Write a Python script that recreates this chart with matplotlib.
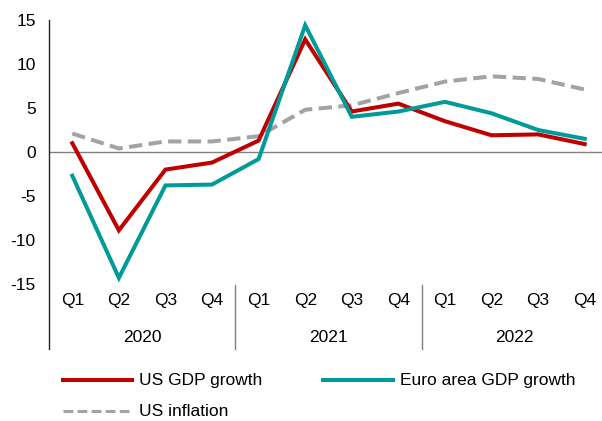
import matplotlib
matplotlib.use("Agg")
import matplotlib.pyplot as plt
from matplotlib.lines import Line2D

quarters = ["Q1", "Q2", "Q3", "Q4"] * 3
years = ["2020", "2021", "2022"]
us_gdp = [1.0, -8.9, -2.0, -1.2, 1.3, 12.8, 4.6, 5.5, 3.5, 1.9, 2.0, 0.9]
euro_gdp = [-2.7, -14.3, -3.8, -3.7, -0.8, 14.4, 4.0, 4.6, 5.7, 4.4, 2.5, 1.5]
us_infl = [2.1, 0.4, 1.2, 1.2, 1.8, 4.8, 5.3, 6.7, 8.0, 8.6, 8.3, 7.1]
yticks = [-15, -10, -5, 0, 5, 10, 15]

RED = "#C00000"
TEAL = "#009B98"
GRAY = "#A3A3A3"
FS = 12.5
plt.rcParams['font.family'] = ['Liberation Sans', 'DejaVu Sans']

W, H = 602, 421
fig = plt.figure(figsize=(W / 100, H / 100), dpi=100)
ax = fig.add_axes([49 / W, 1 - 284 / H, 559 / W, 264 / H])

x = list(range(len(quarters)))
lw = 2.9
ax.plot(x, us_infl, color=GRAY, lw=2.9, dashes=(3.3, 1.6), dash_capstyle='butt', zorder=2)
ax.plot(x, us_gdp, color=RED, lw=lw, solid_joinstyle='miter', zorder=3)
ax.plot(x, euro_gdp, color=TEAL, lw=lw, solid_joinstyle='miter', zorder=4)

ax.axhline(0, color="#808080", lw=1.0, zorder=1)

ax.set_xlim(-0.5, 11.5)
ax.set_ylim(-15, 15)
for s in ax.spines.values():
    s.set_visible(False)
ax.set_yticks(yticks)
ax.set_yticklabels([str(v) for v in yticks], fontsize=FS)
ax.tick_params(axis='y', length=0, pad=9.5)
ax.set_xticks([])

axh = 264
def fy(py):
    return (284 - py) / axh

trans = ax.get_xaxis_transform()
for i, q in enumerate(quarters):
    ax.text(i, fy(300), q, transform=trans, ha='center', va='center', fontsize=FS)
for j, yr in enumerate(years):
    ax.text(4 * j + 1.5, fy(337), yr, transform=trans, ha='center', va='center', fontsize=FS)

# y axis line extending into category area
ax.add_line(Line2D([-0.5, -0.5], [1, fy(349)], transform=trans, color="#262626", lw=1.0, clip_on=False))
for b in [3.5, 7.5]:
    ax.add_line(Line2D([b, b], [fy(285), fy(349)], transform=trans, color="#808080", lw=1.0, clip_on=False))

# legend (manual)
def fx(px):
    return px / W
def fyy(py):
    return 1 - py / H

entries = [
    ("US GDP growth", RED, None, 63, 132, 139, 380),
    ("Euro area GDP growth", TEAL, None, 323, 393, 400, 380),
    ("US inflation", GRAY, (3.2, 1.4), 63, 132, 139, 411),
]
for label, col, dash, x0, x1, tx, ty in entries:
    if dash:
        ln = Line2D([fx(x0), fx(x1)], [fyy(ty), fyy(ty)], transform=fig.transFigure, color=col, lw=2.2, dashes=dash)
    else:
        ln = Line2D([fx(x0), fx(x1)], [fyy(ty), fyy(ty)], transform=fig.transFigure, color=col, lw=lw)
    fig.add_artist(ln)
    fig.text(fx(tx), fyy(ty), label, ha='left', va='center', fontsize=FS)

fig.savefig("out.png", dpi=100)
